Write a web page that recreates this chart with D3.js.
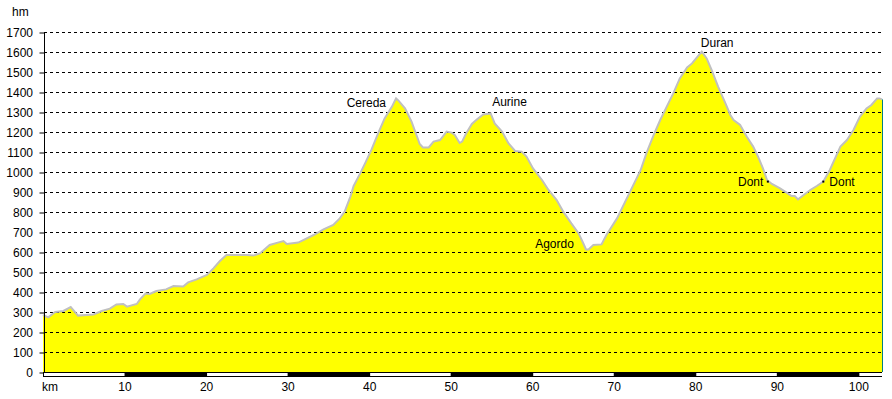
<!DOCTYPE html>
<html>
<head>
<meta charset="utf-8">
<script src="https://cdn.jsdelivr.net/npm/d3@7"></script>
<style>
  body { margin: 0; background: #ffffff; }
  svg text { font-family: Arial, "Liberation Sans", sans-serif; font-size: 12px; fill: #000; }
</style>
</head>
<body>
<svg id="profile" width="892" height="399"></svg>
<script>

// ********************** //
//          Data          //
// ********************** //

var km = [0, 0.65, 1.5, 2.5, 3.4, 4.3, 6.2, 7.2, 8.2, 9.0, 9.85, 10.3, 11.5, 11.9, 12.6, 13.1, 13.9,
    15.1, 16.0, 17.2, 17.8, 18.85, 20.1, 20.9, 21.7, 22.5, 25.0, 25.8, 26.6, 27.8, 28.9, 29.5, 29.9,
    31.3, 33.2, 34.4, 35.6, 36.4, 37.0, 37.7, 38.1, 38.9, 39.5, 40.3, 41.1, 41.9, 42.8, 43.3, 43.6,
    44.4, 45.2, 45.8, 46.2, 46.6, 47.3, 47.9, 48.7, 49.5, 50.1, 50.5, 51.1, 51.4, 51.8, 52.0, 52.6,
    53.2, 54.0, 54.9, 55.4, 56.3, 57.1, 57.9, 58.7, 59.3, 60.1, 61.2, 62.0, 63.0, 63.8, 64.8, 65.7,
    66.3, 66.6, 66.9, 67.5, 68.5, 69.1, 70.4, 71.6, 72.8, 73.3, 74.0, 74.9, 75.7, 76.5, 77.3, 78.1,
    79.0, 79.6, 80.2, 80.8, 81.4, 82.0, 82.8, 83.7, 84.3, 84.7, 85.5, 86.3, 87.1, 87.7, 88.3, 88.8,
    89.4, 90.4, 91.2, 91.8, 92.2, 92.6, 93.3, 94.1, 94.9, 95.7, 96.5, 97.8, 98.6, 99.4, 100.2, 101.0,
    101.6, 102.3, 102.6, 102.9];

var altitude = [285, 273, 300, 305, 325, 282, 288, 305, 317, 338, 340, 327, 340, 363, 393, 390, 405,
    413, 430, 427, 448, 463, 485, 518, 555, 585, 585, 582, 593, 635, 648, 655, 640,
    647, 685, 713, 735, 768, 802, 877, 930, 993, 1043, 1113, 1193, 1268, 1327, 1368, 1357,
    1318, 1252, 1185, 1140, 1123, 1123, 1152, 1160, 1202, 1197, 1185, 1145, 1152, 1185, 1200, 1240,
    1262, 1288, 1293, 1243, 1202, 1143, 1105, 1102, 1077, 1018, 960, 910, 860, 802, 743, 693,
    640, 613, 613, 635, 638, 685, 768, 868, 968, 1010, 1093, 1185, 1260, 1327, 1393, 1468,
    1523, 1543, 1573, 1602, 1568, 1510, 1427, 1343, 1285, 1260, 1235, 1177, 1127, 1077, 1018, 960,
    940, 918, 897, 880, 880, 863, 885, 910, 930, 952, 1010, 1127, 1160, 1210, 1277, 1318,
    1335, 1368, 1368, 1363];

var placeNames = ['Cereda', 'Aurine', 'Agordo', 'Duran', 'Dont', 'Dont'];
var placeKm = [43.3, 54.6, 66.7, 80.8, 88.9, 95.7];
var placeAlt = [1368, 1293, 613, 1602, 952, 952];

var altTicks = d3.range(0, 1701, 100);
var kmTicks = d3.range(10, 101, 10);
var kmMax = 102.9;


// ********************** //
//        Drawing         //
// ********************** //

var svg = d3.select('#profile');

var x = d3.scaleLinear().domain([0, kmMax]).range([43, 882]);
var y = d3.scaleLinear().domain([0, 1700]).range([372, 32]);

var points = km.map((k, i) => [k, altitude[i]]);

// ***** Filled profile ***** //
var area = d3.area()
    .x(d => x(d[0]))
    .y0(y(0))
    .y1(d => y(d[1]));

svg.append('path')
    .datum(points)
    .attr('d', area)
    .attr('fill', '#ffff00');

// ***** Grid ***** //
svg.append('g')
    .selectAll('line')
    .data(altTicks.slice(1))
    .enter()
    .append('line')
    .attr('x1', 44)
    .attr('x2', 882)
    .attr('y1', d => y(d) + 0.5)
    .attr('y2', d => y(d) + 0.5)
    .attr('stroke', '#000')
    .attr('stroke-width', 1)
    .attr('stroke-dasharray', '3,3');

// ***** Outline ***** //
var line = d3.line()
    .x(d => x(d[0]))
    .y(d => y(d[1]));

svg.append('path')
    .datum(points)
    .attr('d', line)
    .attr('fill', 'none')
    .attr('stroke', '#c0c0c0')
    .attr('stroke-width', 2);

svg.append('line')
    .attr('x1', x(kmMax) + 0.5)
    .attr('x2', x(kmMax) + 0.5)
    .attr('y1', y(altitude[altitude.length - 1]))
    .attr('y2', y(0))
    .attr('stroke', '#008080')
    .attr('stroke-width', 1);

// ***** Y axis ***** //
var yAxis = d3.axisLeft(y)
    .tickValues(altTicks)
    .tickFormat(d3.format('d'))
    .tickSize(5)
    .tickPadding(6);

var gy = svg.append('g')
    .attr('transform', 'translate(44.5,0.5)')
    .call(yAxis);
gy.select('.domain').attr('d', 'M0,' + (y(1700) - 0.5) + 'V' + y(0));
gy.selectAll('text')
    .attr('font-size', 12)
    .attr('font-family', 'Arial, "Liberation Sans", sans-serif')
    .attr('dy', '0.35em')
    .attr('x', -11.5);

svg.append('text')
    .attr('x', 12)
    .attr('y', 16)
    .text('hm');

// ***** Km scale bar ***** //
var segments = d3.range(0, kmMax, 10);

svg.append('rect')
    .attr('x', x(0))
    .attr('y', 372)
    .attr('width', x(kmMax) - x(0))
    .attr('height', 5)
    .attr('fill', '#000');

svg.append('g')
    .selectAll('rect')
    .data(segments.filter((d, i) => i % 2 == 0))
    .enter()
    .append('rect')
    .attr('x', d => x(d) + 1)
    .attr('y', 373)
    .attr('width', d => x(Math.min(d + 10, kmMax)) - x(d) - 1)
    .attr('height', 3)
    .attr('fill', '#fff');

svg.append('g')
    .selectAll('text')
    .data(kmTicks)
    .enter()
    .append('text')
    .attr('x', d => x(d) + 0.5)
    .attr('y', 391)
    .attr('text-anchor', 'middle')
    .text(d => d);

svg.append('text')
    .attr('x', 42)
    .attr('y', 391)
    .text('km');

// ***** Place names ***** //
var labelPlace = [
    { anchor: 'end', dx: -10, dy: 8.5 },
    { anchor: 'start', dx: 4, dy: -7 },
    { anchor: 'end', dx: -13, dy: -1 },
    { anchor: 'start', dx: -1, dy: -5 },
    { anchor: 'end', dx: -4.5, dy: 4 },
    { anchor: 'start', dx: 6, dy: 4 }
];
var marked = [false, false, false, false, true, true];

var places = svg.append('g')
    .selectAll('g')
    .data(placeNames.map((n, i) => i))
    .enter()
    .append('g')
    .attr('transform', i => 'translate(' + x(placeKm[i]) + ',' + y(placeAlt[i]) + ')');

places.append('text')
    .attr('x', i => labelPlace[i].dx)
    .attr('y', i => labelPlace[i].dy)
    .attr('text-anchor', i => labelPlace[i].anchor)
    .text(i => placeNames[i]);

places.filter(i => marked[i])
    .append('rect')
    .attr('x', -1)
    .attr('y', -1)
    .attr('width', 2)
    .attr('height', 2)
    .attr('fill', '#000');

</script>
</body>
</html>
